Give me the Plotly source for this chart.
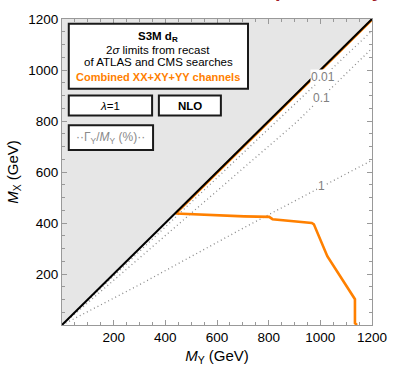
import plotly.graph_objects as go

# ---------------- data ----------------
diag_my = [0, 1200]
diag_mx = [0, 1200]

region_my = [0, 1200, 0]
region_mx = [0, 1200, 1200]

# Gamma_Y/M_Y contours (%)
w001_my = [0, 820, 1200]
w001_mx = [0, 790, 1154]
w01_my = [0, 907, 1200]
w01_mx = [0, 795, 1085]
w1_my = [0, 300, 705, 1200]
w1_mx = [0, 158, 382, 646]
contour_labels = ["0.01", "0.1", "1"]
contour_label_my = [1010, 1003, 1005]
contour_label_mx = [972, 889, 544]

# combined exclusion contour
comb_my = [1200, 440, 705, 802, 815, 967, 975, 1027, 1134, 1134, 1142]
comb_mx = [1197, 437, 426, 424, 415, 400, 395, 270, 101, 7, 0]

x_ticks = [200, 400, 600, 800, 1000, 1200]
y_ticks = [200, 400, 600, 800, 1000, 1200]

FONT = "Liberation Sans"
W, H = 399, 374
L, R, T, B = 62, 17, 12, 42
PW, PH = W - L - R, H - T - B


def px(x):
    return (x - L) / PW


def py(y):
    return 1 - (y - T) / PH


fig = go.Figure()

fig.add_trace(go.Scatter(x=region_my, y=region_mx, fill="toself", mode="lines",
                         line=dict(width=0), fillcolor="#e6e6e6",
                         hoverinfo="skip", showlegend=False))
for xs, ys in [(w001_my, w001_mx), (w01_my, w01_mx), (w1_my, w1_mx)]:
    fig.add_trace(go.Scatter(x=xs, y=ys, mode="lines",
                             line=dict(color="#8a8a8a", width=1.3, dash="1px,3px"),
                             showlegend=False))
fig.add_trace(go.Scatter(x=comb_my, y=comb_mx, mode="lines",
                         line=dict(color="#ff8000", width=2.6),
                         showlegend=False))
fig.add_trace(go.Scatter(x=diag_my, y=diag_mx, mode="lines",
                         line=dict(color="black", width=2),
                         showlegend=False))

ann = []
for lx, ly, lt in zip(contour_label_my, contour_label_mx, contour_labels):
    ann.append(dict(xref="x", yref="y", x=lx, y=ly, text=lt, showarrow=False,
                    bgcolor="white", borderpad=0,
                    font=dict(family=FONT, size=12, color="#808080")))

# label boxes (pixel positions)
boxes = [(69, 17, 254, 85), (69, 92, 155, 113), (162, 92, 226, 113), (69, 123, 156, 149)]
shapes = []
for x0, y0, x1, y1 in boxes:
    shapes.append(dict(type="rect", xref="paper", yref="paper",
                       x0=px(x0), x1=px(x1), y0=py(y1), y1=py(y0),
                       fillcolor="white", line=dict(color="#1a1a1a", width=2)))


def add_text(x, y, txt, size=11.5, color="black"):
    ann.append(dict(xref="paper", yref="paper", x=px(x), y=py(y), text=txt,
                    showarrow=False, xanchor="center", yanchor="middle",
                    font=dict(family=FONT, size=size, color=color)))


add_text(161.5, 31, "<b>S3M d<sub>R</sub></b>")
add_text(161.5, 44, "2<i>σ</i> limits from recast")
add_text(161.5, 57, "of ATLAS and CMS searches")
add_text(161.5, 72.5, "<b>Combined XX+XY+YY channels</b>", size=11, color="#ff8000")
add_text(112, 102.5, "<i>λ</i>=1")
add_text(194, 102.5, "<b>NLO</b>")
add_text(112.5, 136, "··Γ<sub>Y</sub>/<i>M</i><sub>Y</sub> (%)··", size=12, color="#8a8a8a")

ann.append(dict(xref="paper", yref="paper", x=px(280), y=py(-5), text="<b>preliminary</b>",
                showarrow=False, xanchor="left", yanchor="bottom",
                font=dict(family=FONT, size=20, color="#a01c28")))

axis_common = dict(range=[0, 1200], showgrid=False, zeroline=False,
                   showline=True, linecolor="#999999", linewidth=1,
                   mirror="allticks", ticks="inside", ticklen=5, tickcolor="#999999",
                   tickfont=dict(family=FONT, size=13.5, color="black"),
                   minor=dict(ticks="inside", ticklen=3, dtick=50, tickcolor="#999999",
                              showgrid=False),
                   fixedrange=True)

fig.update_layout(
    width=W, height=H,
    margin=dict(l=L, r=R, t=T, b=B),
    paper_bgcolor="white", plot_bgcolor="white",
    shapes=shapes, annotations=ann,
    xaxis=dict(**axis_common, tickvals=x_ticks,
               title=dict(text="<i>M</i><sub>Y</sub> (GeV)", standoff=6,
                          font=dict(family=FONT, size=15, color="black"))),
    yaxis=dict(**axis_common, tickvals=y_ticks,
               title=dict(text="<i>M</i><sub>X</sub> (GeV)", standoff=6,
                          font=dict(family=FONT, size=15, color="black"))),
)

fig.write_html("out.html")
